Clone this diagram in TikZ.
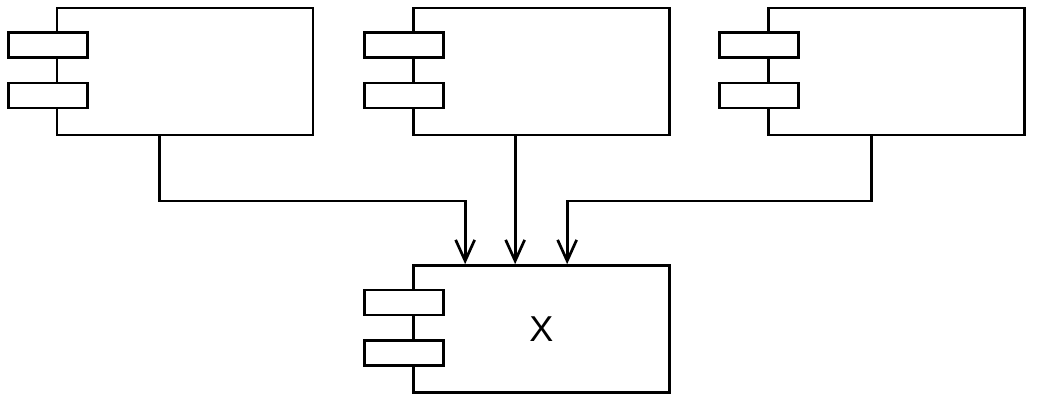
\documentclass[tikz,border=0pt]{standalone}
\usepackage{fontspec}
\setmainfont{Liberation Sans}
\usetikzlibrary{arrows.meta,calc}
\begin{document}
\begin{tikzpicture}[x=1pt,y=-1pt,
  comp/.style={draw,line width=2.7pt,minimum width=256pt,minimum height=127pt,inner sep=0pt,fill=white},
  tab/.style={draw,line width=2.7pt,minimum width=79pt,minimum height=25pt,inner sep=0pt,fill=white},
  conn/.style={line width=2.7pt,-{Straight Barb[length=21pt,width=19pt,line width=2.7pt]}}]
\useasboundingbox (0,0) rectangle (1037,414);
\node[comp] (L) at (185,71.5) {};
\node[comp] (M) at (541.5,71.5) {};
\node[comp] (R) at (896.5,71.5) {};
\node[comp,font=\fontsize{36pt}{40pt}\selectfont] (X) at (541.5,329) {X};
\foreach \b in {L,M,R,X}{
  \node[tab] (\b t1) at ($(\b.north west)+(-8,38.5)$) {};
  \node[tab] (\b t2) at ($(\b.north west)+(-8,89)$) {};
}
\coordinate (Ls) at ($(L.south west)+(104,0)$);
\coordinate (Ms) at ($(M.south west)+(103,0)$);
\coordinate (Rs) at ($(R.south west)+(104,0)$);
\coordinate (Xa) at ($(X.north west)+(53,0)$);
\coordinate (Xb) at ($(X.north west)+(103,0)$);
\coordinate (Xc) at ($(X.north west)+(155,0)$);
\draw[conn] (Ls) -- (Ls |- 0,201) -- (Xa |- 0,201) -- (Xa);
\draw[conn] (Ms) -- (Xb);
\draw[conn] (Rs) -- (Rs |- 0,201) -- (Xc |- 0,201) -- (Xc);
\end{tikzpicture}
\end{document}
